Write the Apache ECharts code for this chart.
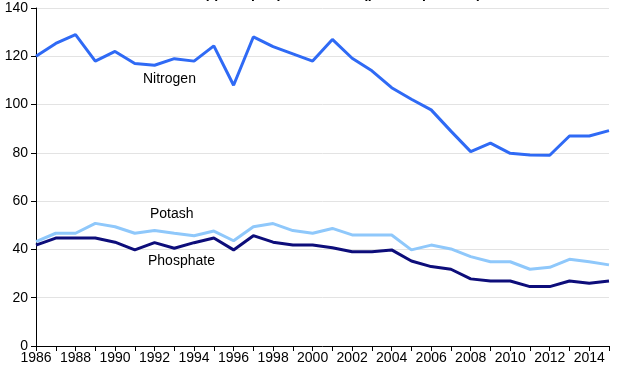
<!DOCTYPE html>
<html>
<head>
<meta charset="utf-8">
<script src="https://cdn.jsdelivr.net/npm/echarts@6/dist/echarts.min.js"></script>
<style>
html,body{margin:0;padding:0;background:#fff;}
#chart{width:617px;height:374px;}
</style>
</head>
<body>
<div id="chart"></div>
<script>
var titleText = "Fertilizer applied per planted acre (pounds per acre)";
var years = ["1986","1987","1988","1989","1990","1991","1992","1993","1994","1995","1996","1997","1998","1999","2000","2001","2002","2003","2004","2005","2006","2007","2008","2009","2010","2011","2012","2013","2014","2015"];
var nitrogen = [120,125.3,129,118,122,117,116.3,119,118,124.3,108,128,124,121,118,127,119.2,114,107,102.2,97.8,89,80.5,84,79.8,79.1,79,87,87,89.2];
var potash = [43.2,46.7,46.7,50.8,49.4,46.7,47.8,46.7,45.7,47.6,43.6,49.4,50.7,47.8,46.7,48.7,46,46,46,39.8,41.8,40.2,37,34.9,34.9,31.8,32.6,35.9,34.9,33.6];
var phosphate = [41.8,44.7,44.7,44.7,43,39.8,42.8,40.5,42.8,44.7,39.8,45.7,43,41.8,41.8,40.7,39,39,39.8,35.2,32.9,31.8,27.8,26.9,26.9,24.6,24.6,26.9,26,26.9];
var seriesNames = ["Nitrogen","Potash","Phosphate"];

var chart = echarts.init(document.getElementById('chart'), null, {renderer:'canvas'});
var font = 'Liberation Sans, Arial, sans-serif';
chart.setOption({
  animation:false,
  backgroundColor:'#fff',
  title:{text:titleText,left:'center',top:-18,textStyle:{fontFamily:font,fontSize:14,fontWeight:'bold',color:'#000'}},
  grid:{left:36,right:8,top:8,bottom:28,containLabel:false},
  xAxis:{
    type:'category',data:years,boundaryGap:false,
    axisLine:{lineStyle:{color:'#000',width:1}},
    axisTick:{show:true,interval:0,length:5,lineStyle:{color:'#000'}},
    axisLabel:{interval:1,color:'#000',fontFamily:font,fontSize:14,margin:5},
    splitLine:{show:false}
  },
  yAxis:{
    type:'value',min:0,max:140,interval:20,
    axisLine:{show:true,lineStyle:{color:'#000',width:1}},
    axisTick:{show:true,length:5,lineStyle:{color:'#000'}},
    axisLabel:{color:'#000',fontFamily:font,fontSize:14,margin:8},
    splitLine:{show:true,lineStyle:{color:'#e3e3e3',width:1}}
  },
  series:[
    {name:seriesNames[0],type:'line',data:nitrogen,symbol:'none',lineStyle:{color:'#2f6af5',width:3},z:3},
    {name:seriesNames[1],type:'line',data:potash,symbol:'none',lineStyle:{color:'#8fc8fb',width:3},z:2},
    {name:seriesNames[2],type:'line',data:phosphate,symbol:'none',lineStyle:{color:'#0d0d7a',width:3},z:4}
  ],
  graphic:[
    {type:'text',left:143,top:72,style:{text:seriesNames[0],font:'14px '+font,fill:'#000'}},
    {type:'text',left:150,top:207,style:{text:seriesNames[1],font:'14px '+font,fill:'#000'}},
    {type:'text',left:148,top:254,style:{text:seriesNames[2],font:'14px '+font,fill:'#000'}}
  ]
});
</script>
</body>
</html>
